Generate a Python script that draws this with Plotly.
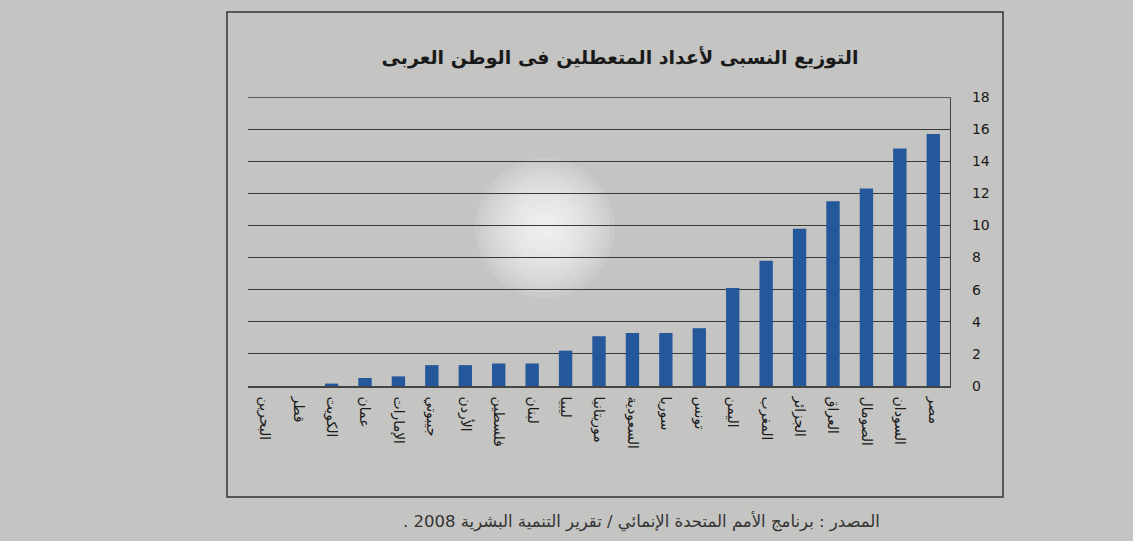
import plotly.graph_objects as go

countries = ["البحرين", "قطر", "الكويت", "عمان", "الإمارات", "جيبوتي", "الأردن",
             "فلسطين", "لبنان", "ليبيا", "موريتانيا", "السعودية", "سوريا", "تونس",
             "اليمن", "المغرب", "الجزائر", "العراق", "الصومال", "السودان", "مصر"]
values = [0, 0, 0.15, 0.5, 0.6, 1.3, 1.3, 1.4, 1.4, 2.2, 3.1, 3.3, 3.3, 3.6,
          6.1, 7.8, 9.8, 11.5, 12.3, 14.8, 15.7]
y_ticks = [0, 2, 4, 6, 8, 10, 12, 14, 16, 18]
y_max = 18

title_text = "التوزيع النسبى لأعداد المتعطلين فى الوطن العربى"
source_text = "\u200fالمصدر : برنامج الأمم المتحدة الإنمائي / تقرير التنمية البشرية 2008 .\u200f"

fig = go.Figure()
fig.add_trace(go.Bar(
    x=countries, y=values,
    marker=dict(color="#25579b", line=dict(width=0)),
    width=0.4,
))

L, R, T, B = 248, 950, 97, 386
W, H = R - L, B - T
shapes = [
    # outer chart frame
    dict(type="rect", xref="paper", yref="paper",
         x0=(227 - L) / W, x1=(1003 - L) / W,
         y0=-(497 - B) / H, y1=1 + (T - 12) / H,
         line=dict(color="#333333", width=1.5), fillcolor="rgba(0,0,0,0)", layer="below"),
    # top gridline at the axis maximum
    dict(type="line", xref="paper", yref="y", x0=0, x1=1, y0=y_max, y1=y_max,
         line=dict(color="#3a3a3a", width=1.3)),
]
# glare
cx, cy = 545, 228
for i in range(14):
    r = 70 - i * 5
    shapes.append(dict(type="circle", xref="paper", yref="paper",
                       x0=(cx - r - L) / W, x1=(cx + r - L) / W,
                       y0=(B - cy - r) / H, y1=(B - cy + r) / H,
                       fillcolor="rgba(255,255,255,0.1)", line=dict(width=0), layer="below"))

fig.update_layout(
    width=1133, height=541,
    margin=dict(l=L, r=1133 - R, t=T, b=541 - B),
    paper_bgcolor="#c4c4c2",
    plot_bgcolor="rgba(0,0,0,0)",
    font=dict(family="DejaVu Sans", color="#222222"),
    showlegend=False,
    bargap=0.6,
    shapes=shapes,
    title=dict(text="<b>" + title_text + "</b>", x=620 / 1133, xanchor="center",
               y=1 - 57 / 541, yanchor="middle",
               font=dict(size=19, color="#1a1a1a", family="DejaVu Sans")),
    xaxis=dict(
        tickangle=90, tickfont=dict(size=14, color="#1a1a1a"),
        showline=True, linecolor="#444444", linewidth=1.5,
        showgrid=False, ticks="", ticklabelstandoff=6,
    ),
    yaxis=dict(
        side="right", range=[0, y_max], tickvals=y_ticks,
        tickfont=dict(size=14, color="#1a1a1a"),
        showgrid=True, gridcolor="#3a3a3a", gridwidth=1.3,
        showline=True, linecolor="#444444", linewidth=1.3,
        mirror=False, zeroline=False, ticks="", ticklabelstandoff=18,
    ),
    annotations=[
        dict(text=source_text, xref="paper", yref="paper",
             x=(641 - L) / W, y=-(521 - B) / H, xanchor="center", yanchor="middle",
             showarrow=False, font=dict(size=16.5, color="#333333")),
    ],
)

fig.write_html("out.html")
